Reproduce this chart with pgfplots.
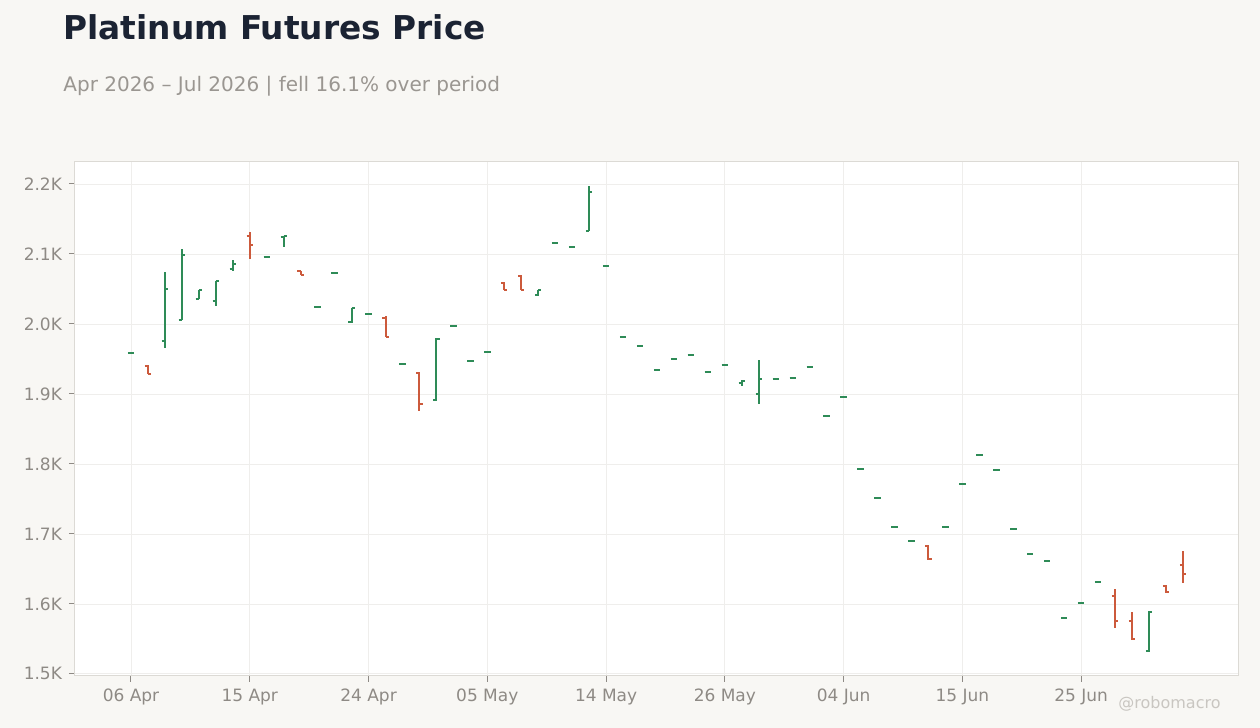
\documentclass[border=0pt]{standalone}
\usepackage{fontspec}
\setmainfont{DejaVu Sans}
\usepackage{pgfplots}
\usepackage{pgfplotstable}
\pgfplotsset{compat=1.18}

\definecolor{bgcol}{HTML}{F8F7F4}
\definecolor{titlecol}{HTML}{1B2333}
\definecolor{subcol}{HTML}{9A9691}
\definecolor{tickcol}{HTML}{8E8A85}
\definecolor{gridcol}{HTML}{EFEEEC}
\definecolor{framecol}{HTML}{DCDAD5}
\definecolor{upcol}{HTML}{2E8B57}
\definecolor{downcol}{HTML}{CC5A3C}
\definecolor{markcol}{HTML}{C9C6C1}

% OHLC ticks: open to the left, close to the right
\pgfdeclareplotmark{otick}{\pgfpathmoveto{\pgfqpoint{-1.6pt}{0pt}}\pgfpathlineto{\pgfqpoint{0pt}{0pt}}\pgfusepathqstroke}
\pgfdeclareplotmark{ctick}{\pgfpathmoveto{\pgfqpoint{0pt}{0pt}}\pgfpathlineto{\pgfqpoint{1.6pt}{0pt}}\pgfusepathqstroke}

% index o h l c  (index = trading day from 06 Apr)
\pgfplotstableread{
x o h l c
0 1958 1958 1958 1958
2 1975 2074 1965 2050
3 2005 2107 2005 2098
4 2036 2049 2035 2049
5 2033 2062 2026 2061
6 2079 2091 2076 2085
8 2095 2095 2095 2095
9 2124 2125 2110 2125
11 2024 2024 2024 2024
12 2073 2073 2073 2073
13 2003 2023 2002 2023
14 2014 2014 2014 2014
16 1943 1943 1943 1943
18 1891 1980 1890 1979
19 1997 1997 1997 1997
20 1947 1947 1947 1947
21 1960 1960 1960 1960
24 2041 2048 2040 2048
25 2116 2116 2116 2116
26 2110 2110 2110 2110
27 2133 2197 2133 2188
28 2083 2083 2083 2083
29 1982 1982 1982 1982
30 1969 1969 1969 1969
31 1934 1934 1934 1934
32 1950 1950 1950 1950
33 1956 1956 1956 1956
34 1932 1932 1932 1932
35 1942 1942 1942 1942
36 1915 1920 1912 1919
37 1900 1949 1886 1922
38 1921 1921 1921 1921
39 1923 1923 1923 1923
40 1938 1938 1938 1938
41 1869 1869 1869 1869
42 1895 1895 1895 1895
43 1793 1793 1793 1793
44 1751 1751 1751 1751
45 1710 1710 1710 1710
46 1690 1690 1690 1690
48 1710 1710 1710 1710
49 1771 1771 1771 1771
50 1813 1813 1813 1813
51 1791 1791 1791 1791
52 1707 1707 1707 1707
53 1671 1671 1671 1671
54 1661 1661 1661 1661
55 1580 1580 1580 1580
56 1602 1602 1602 1602
57 1632 1632 1632 1632
60 1532 1590 1531 1589
}\upbars

\pgfplotstableread{
x o h l c
1 1940 1942 1928 1928
7 2126 2131 2093 2113
10 2075 2076 2070 2070
15 2009 2011 1981 1981
17 1930 1932 1876 1886
22 2059 2060 2048 2048
23 2069 2070 2048 2048
47 1683 1684 1663 1664
58 1611 1621 1566 1575
59 1575 1589 1549 1550
61 1626 1627 1616 1617
62 1655 1675 1630 1643
}\downbars

\begin{document}
\begin{tikzpicture}
\fill[bgcol] (0pt,0pt) rectangle (630pt,364pt);

\node[anchor=base west, inner sep=0pt, text=titlecol, font=\fontsize{16.4pt}{20pt}\selectfont\bfseries]
  at (31.5pt,344pt) {Platinum Futures Price};
\node[anchor=base west, inner sep=0pt, text=subcol, font=\fontsize{10pt}{12pt}\selectfont]
  at (31.5pt,318pt) {Apr 2026 – Jul 2026 | fell 16.1\% over period};
\node[anchor=base west, inner sep=0pt, text=markcol, font=\fontsize{8pt}{10pt}\selectfont]
  at (559pt,9.5pt) {@robomacro};

\begin{axis}[
  at={(37.5pt,26pt)}, anchor=south west,
  scale only axis, width=582pt, height=257pt,
  xmin=-3.3, xmax=65.3,
  ymin=1497, ymax=2231.4,
  axis background/.style={fill=white},
  axis line style={framecol, line width=0.5pt},
  grid=major,
  major grid style={gridcol, line width=0.4pt},
  xtick={0,7,14,21,28,35,42,49,56},
  xticklabels={06 Apr,15 Apr,24 Apr,05 May,14 May,26 May,04 Jun,15 Jun,25 Jun},
  ytick={1500,1600,1700,1800,1900,2000,2100,2200},
  yticklabels={1.5K,1.6K,1.7K,1.8K,1.9K,2.0K,2.1K,2.2K},
  tick align=outside,
  major tick length=3pt,
  xtick pos=bottom, ytick pos=left,
  tick style={tickcol, line width=0.5pt},
  ticklabel style={text=tickcol, font=\fontsize{8.5pt}{10pt}\selectfont},
  clip=false,
]
% high-low lines
\addplot[draw=none, mark=none, forget plot,
  error bars/.cd, y dir=both, y explicit, error mark=none,
  error bar style={draw=upcol, line width=1pt}]
  table[x=x, y expr={(\thisrow{h}+\thisrow{l})/2}, y error expr={(\thisrow{h}-\thisrow{l})/2}] {\upbars};
\addplot[draw=none, mark=none, forget plot,
  error bars/.cd, y dir=both, y explicit, error mark=none,
  error bar style={draw=downcol, line width=1pt}]
  table[x=x, y expr={(\thisrow{h}+\thisrow{l})/2}, y error expr={(\thisrow{h}-\thisrow{l})/2}] {\downbars};
% open and close ticks
\addplot[only marks, mark=otick, mark options={draw=upcol, line width=1pt}] table[x=x, y=o] {\upbars};
\addplot[only marks, mark=ctick, mark options={draw=upcol, line width=1pt}] table[x=x, y=c] {\upbars};
\addplot[only marks, mark=otick, mark options={draw=downcol, line width=1pt}] table[x=x, y=o] {\downbars};
\addplot[only marks, mark=ctick, mark options={draw=downcol, line width=1pt}] table[x=x, y=c] {\downbars};
\end{axis}
\end{tikzpicture}
\end{document}
